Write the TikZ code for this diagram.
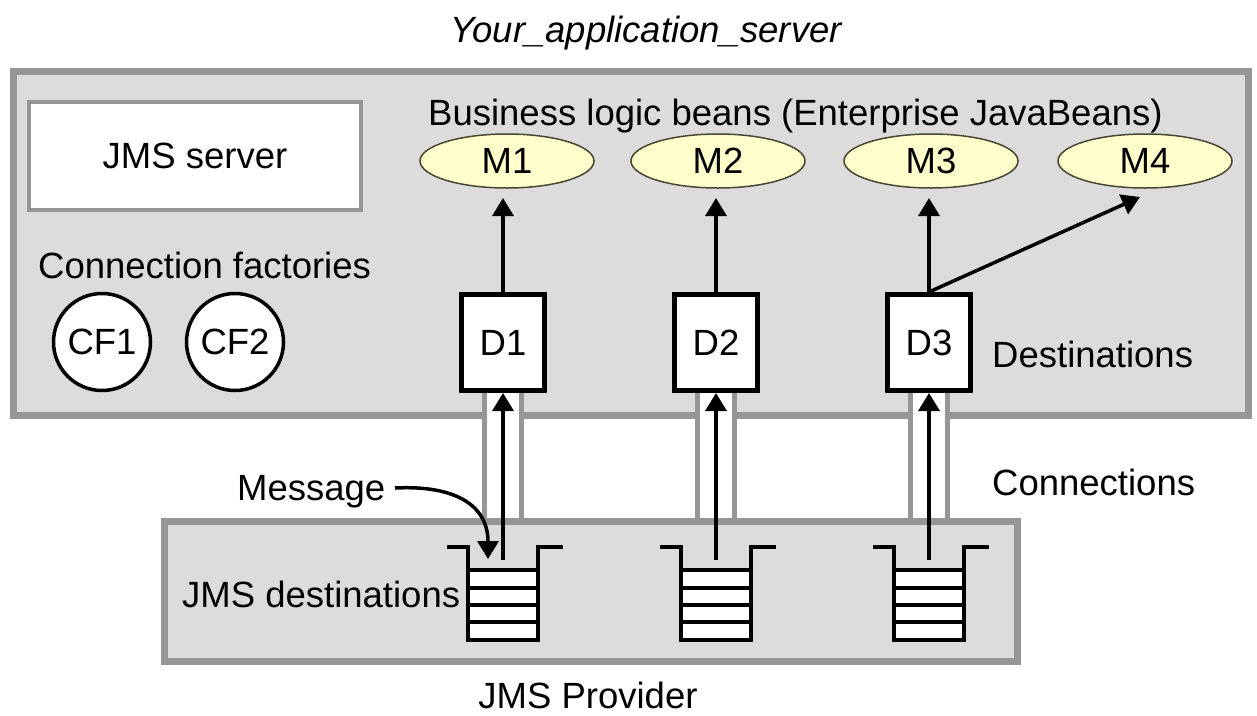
\documentclass[tikz,border=0pt]{standalone}
\usepackage{fontspec}
\setmainfont{Liberation Sans}
\usetikzlibrary{arrows.meta,shapes.geometric}
\definecolor{bgray}{RGB}{150,150,150}
\definecolor{lgray}{RGB}{220,220,220}
\definecolor{beanfill}{RGB}{255,255,204}
\definecolor{beanline}{RGB}{70,70,50}
\tikzset{
  txt/.style={font=\fontsize{36.5}{40}\selectfont, inner sep=0pt},
  bigbox/.style={rectangle, draw=bgray, line width=7pt, fill=lgray, inner sep=0pt},
  srvbox/.style={rectangle, draw=bgray, line width=3.5pt, fill=white, txt,
    minimum width=332pt, minimum height=108pt},
  cf/.style={circle, draw=black, line width=3.5pt, fill=white, txt, minimum size=97pt},
  bean/.style={ellipse, draw=beanline, line width=1.5pt, fill=beanfill, txt,
    minimum width=174pt, minimum height=54pt},
  dest/.style={rectangle, draw=black, line width=5pt, fill=white, txt,
    minimum width=83pt, minimum height=96pt},
  arr/.style={-{Triangle[length=18pt,width=21pt]}, line width=3.5pt, black},
  pipeline/.style={draw=bgray, line width=5pt},
  ql/.style={line width=4.5pt, black},
  lbl/.style={txt, anchor=base west},
  queue/.pic={
    \fill[white] (-35,23) rectangle (35,93);
    \draw[ql] (-56,0) -- (-35,0) -- (-35,93) -- (35,93) -- (35,0) -- (60,0);
    \foreach \yy in {23,41,58,75} \draw[ql] (-35,\yy) -- (35,\yy);
  }
}
\begin{document}
\begin{tikzpicture}[x=1pt,y=-1pt]
\useasboundingbox (0,0) rectangle (1257,715);
\fill[white] (0,0) rectangle (1257,715);

% title
\node[txt, anchor=base, font=\fontsize{36.5}{40}\selectfont\itshape] (title) at (646,42) {Your\_application\_server};

% application server box
\node[bigbox, minimum width=1235pt, minimum height=344pt] (server) at (631,243) {};
\node[srvbox] (jms) at (195,156) {JMS server};
\node[lbl] (cflabel) at (38,278) {Connection factories};
\node[cf] (cf1) at (102,342) {CF1};
\node[cf] (cf2) at (235,342) {CF2};

\node[lbl] (blb) at (428,125) {Business logic beans (Enterprise JavaBeans)};
\node[bean] (m1) at (507,161) {M1};
\node[bean] (m2) at (718,161) {M2};
\node[bean] (m3) at (931,161) {M3};
\node[bean] (m4) at (1145,161) {M4};

% provider box
\node[bigbox, minimum width=853pt, minimum height=139.5pt] (provider) at (590.5,591.25) {};

% pipes (connections)
\foreach \cx in {503,716,929}{
  \fill[white] (\cx-18.5,390) rectangle (\cx+18.5,518);
  \draw[pipeline] (\cx-18.5,390) -- (\cx-18.5,518);
  \draw[pipeline] (\cx+18.5,390) -- (\cx+18.5,518);
}

% destinations
\node[dest] (d1) at (503,342.5) {D1};
\node[dest] (d2) at (716,342.5) {D2};
\node[dest] (d3) at (929,342.5) {D3};
\node[lbl] (destlabel) at (992,367) {Destinations};

% queues
\pic at (503,547) {queue};
\pic at (716,547) {queue};
\pic at (929,547) {queue};
\coordinate (q1) at (503,560);
\coordinate (q2) at (716,560);
\coordinate (q3) at (929,560);

% labels in lower part
\node[lbl] (msg) at (237,500) {Message};
\node[lbl] (conn) at (992,495) {Connections};
\node[lbl] (jmsdest) at (182,607) {JMS destinations};
\node[txt, anchor=base] (prov) at (588,708) {JMS Provider};

% arrows
\draw[arr] (q1) -- (d1.south);
\draw[arr] (q2) -- (d2.south);
\draw[arr] (q3) -- (d3.south);
\coordinate (m1tip) at (503,198);
\coordinate (m2tip) at (716,198);
\coordinate (m3tip) at (929,198);
\coordinate (m4tip) at (1140,197);
\draw[arr] (d1.north) -- (m1tip);
\draw[arr] (d2.north) -- (m2tip);
\draw[arr] (d3.north) -- (m3tip);
\draw[arr] (d3.north) -- (m4tip);
\coordinate (msgstart) at (395,488);
\coordinate (msgtip) at (488,559);
\draw[arr] (msgstart) .. controls (455,485) and (488,505) .. (msgtip);
\end{tikzpicture}
\end{document}
